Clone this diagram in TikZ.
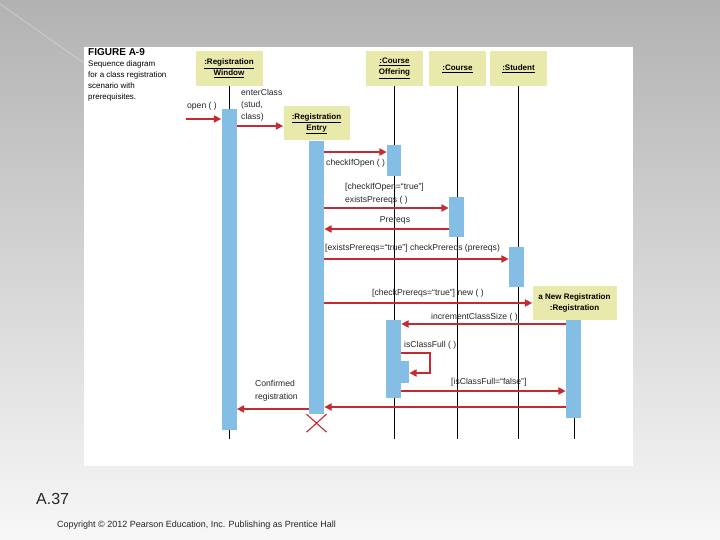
\documentclass[tikz,border=0pt]{standalone}
\usepackage{fontspec}
\setmainfont{Liberation Sans}
\usetikzlibrary{arrows.meta, positioning, shapes.misc}
\definecolor{caixa}{RGB}{234,233,172}
\definecolor{ativa}{RGB}{133,190,228}
\definecolor{seta}{RGB}{196,42,50}
\definecolor{fundo}{RGB}{178,178,178}
\tikzset{
  obj/.style = {fill=caixa, inner sep=0pt, align=center, minimum height=35pt,
    font=\bfseries\fontsize{8}{11}\selectfont},
  ativ/.style = {fill=ativa, inner sep=0pt, minimum width=15pt, anchor=north},
  vida/.style = {draw=black, line width=0.9pt},
  msg/.style = {-{Triangle[length=7.5pt, width=7pt]}, line width=1.9pt, draw=seta},
  rot/.style = {text=black!85, inner sep=0pt, align=left,
    font=\fontsize{8.6}{12.5}\selectfont},
  fimx/.style = {cross out, draw=seta, line width=1.1pt, inner sep=0pt,
    minimum width=19pt, minimum height=17pt}
}

\begin{document}
\begin{tikzpicture}[x=1pt, y=-1pt]
  \useasboundingbox (0,0) rectangle (720,540);
  \shade [top color=fundo, middle color=black!14, bottom color=black!3] (0,0) rectangle (720,540);
  \draw [white, line width=0.7pt, opacity=0.35] (0,4) -- (84,63);
  \fill [white] (84,47) rectangle (633,466);

  \node [font=\bfseries\fontsize{10}{11}\selectfont, inner sep=0pt, anchor=north west] (fig) at (88,48.5) {FIGURE A-9};
  \node [font=\fontsize{8}{10.7}\selectfont, inner sep=0pt, align=left, anchor=north west] (leg) at (88,61)
    {Sequence diagram\\for a class registration\\scenario with\\prerequisites.};

  \coordinate (fim) at (0,439);
  \node [obj, minimum width=67pt] (rw) at (229,68.5) {\underline{:Registration}\\\underline{Window}};
  \node [obj, minimum width=57pt] (co) at (394.5,68.5) {\underline{:Course}\\\underline{Offering}};
  \node [obj, minimum width=57pt] (cu) at (457.5,68.5) {\underline{:Course}};
  \node [obj, minimum width=57pt] (st) at (518.5,68.5) {\underline{:Student}};
  \node [obj, minimum width=66pt, minimum height=34pt] (re) at (316.5,123.5) {\underline{:Registration}\\\underline{Entry}};
  \node [obj, minimum width=84pt, minimum height=34pt] (nr) at (574.5,303) {a New Registration\\:Registration};

  \draw [vida] (rw.south) -- (rw.south |- fim);
  \draw [vida] (co.south) -- (co.south |- fim);
  \draw [vida] (cu.south) -- (cu.south |- fim);
  \draw [vida] (st.south) -- (st.south |- fim);
  \draw [vida] (nr.south) -- (nr.south |- fim);

  \node [ativ, minimum height=321pt] (aRW) at (229,109) {};
  \node [ativ, minimum height=273pt] (aRE) at (re.south) {};
  \node [ativ, minimum width=14pt, minimum height=31pt] (aCO1) at (394,145) {};
  \node [ativ, minimum height=40pt] (aCU) at (456.5,197) {};
  \node [ativ, minimum height=40pt] (aST) at (516.5,247) {};
  \node [ativ, minimum height=78pt] (aCO2) at (393.5,320) {};
  \node [ativ, minimum width=8pt, minimum height=22pt] (aCO3) at (405,361) {};
  \node [ativ, minimum height=98pt] (aNR) at (573.5,320) {};
  \node [fimx, anchor=north] (xre) at (aRE.south) {};

  \coordinate (ini) at (186,119);
  \coordinate (volta) at (430,363);
  \draw [msg] (ini) -- (aRW.west |- ini);
  \draw [msg] (aRW.east |- 0,126) -- (re.west |- 0,126);
  \draw [msg] (aRE.east |- 0,152) -- (aCO1.west |- 0,152);
  \draw [msg] (aRE.east |- 0,208) -- (aCU.west |- 0,208);
  \draw [msg] (aCU.west |- 0,229) -- (aRE.east |- 0,229);
  \draw [msg] (aRE.east |- 0,259) -- (aST.west |- 0,259);
  \draw [msg] (aRE.east |- 0,303) -- (nr.west |- 0,303);
  \draw [msg] (aNR.west |- 0,324) -- (aCO2.east |- 0,324);
  \draw [msg] (aCO2.east |- 0,353) -| (volta) |- (aCO3.east |- 0,373);
  \draw [msg] (aCO2.east |- 0,391) -- (aNR.west |- 0,391);
  \draw [msg] (aNR.west |- 0,407) -- (aRE.east |- 0,407);
  \draw [msg] (aRE.west |- 0,409) -- (aRW.east |- 0,409);

  \node [rot] (lopen) at (202,106) {open ( )};
  \node [rot, anchor=north west, font=\fontsize{8.6}{12}\selectfont] (lenter) at (241,89.5) {enterClass\\(stud,\\class)};
  \node [rot, anchor=west] (lcheck) at (326,163) {checkIfOpen ( )};
  \node [rot, anchor=north west] (lexists) at (345,183.5) {[checkIfOpen=“true”]\\existsPrereqs ( )};
  \node [rot] (lprereqs) at (395,220) {Prereqs};
  \node [rot, anchor=west] (lcheckp) at (325,248) {[existsPrereqs=“true”] checkPrereqs (prereqs)};
  \node [rot, anchor=west] (lnew) at (372,293) {[checkPrereqs=“true”] new ( )};
  \node [rot, anchor=west] (linc) at (431,317) {incrementClassSize ( )};
  \node [rot, anchor=west] (lfull) at (404,345) {isClassFull ( )};
  \node [rot, anchor=west] (lfalse) at (451,382) {[isClassFull=“false”]};
  \node [rot, anchor=north west, font=\fontsize{8.6}{13}\selectfont] (lconf) at (255,380.5) {Confirmed\\registration};

  \node [font=\fontsize{16}{18}\selectfont, text=black!85, inner sep=0pt, anchor=west] (slide) at (36,499) {A.37};
  \node [font=\fontsize{9}{11}\selectfont, text=black!85, inner sep=0pt, anchor=west] (copy) at (57,525)
    {Copyright © 2012 Pearson Education, Inc. Publishing as Prentice Hall};
\end{tikzpicture}
\end{document}
